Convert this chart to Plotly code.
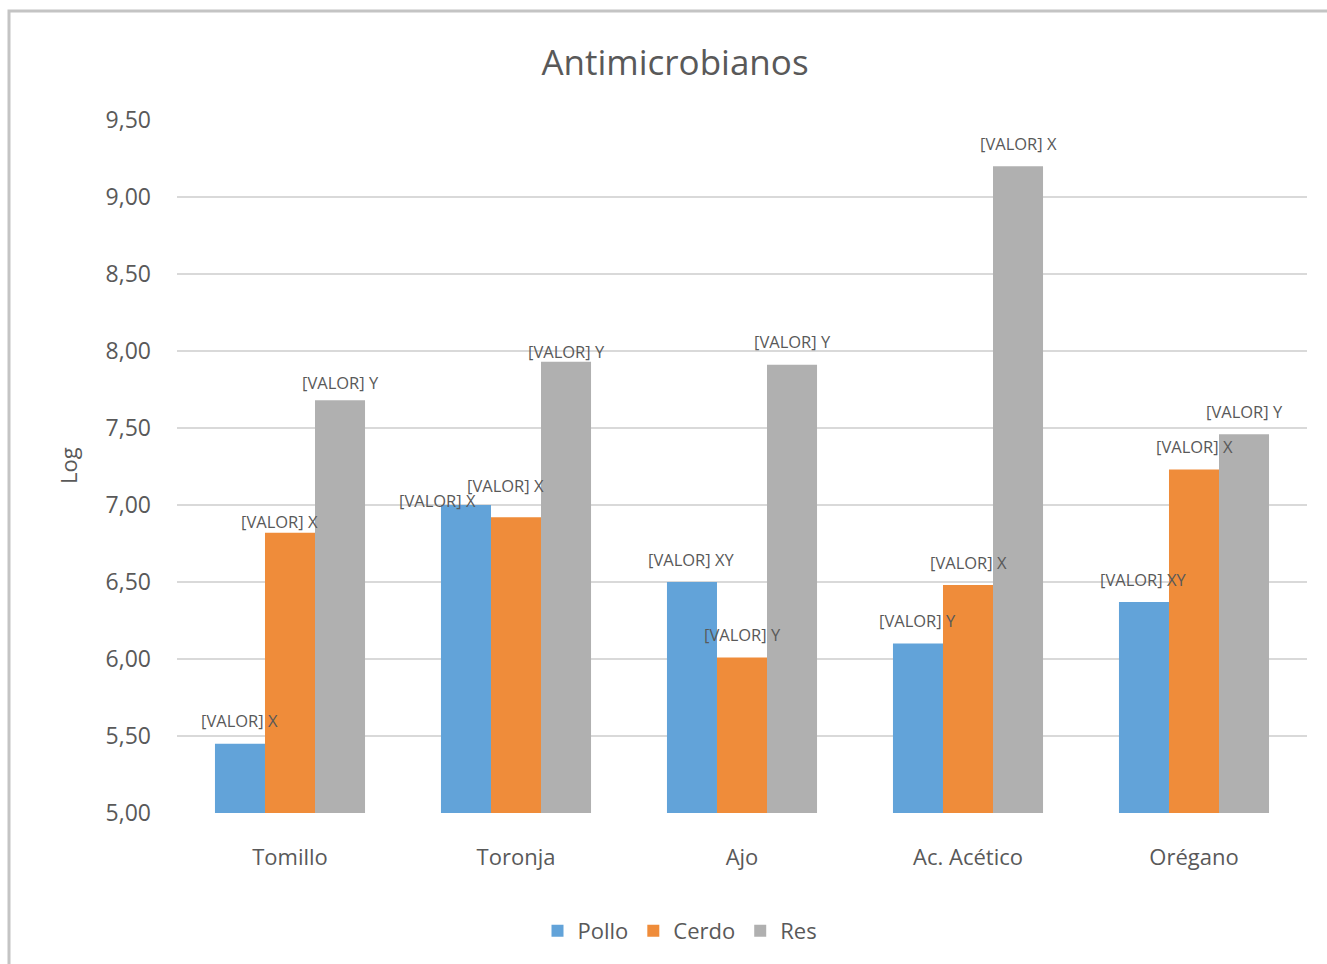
import plotly.graph_objects as go

categories = ["Tomillo", "Toronja", "Ajo", "Ac. Acético", "Orégano"]
series_names = ["Pollo", "Cerdo", "Res"]
pollo = [5.45, 7.00, 6.50, 6.10, 6.37]
cerdo = [6.82, 6.92, 6.01, 6.48, 7.23]
res = [7.68, 7.93, 7.91, 9.20, 7.46]
pollo_letters = ["X", "X", "XY", "Y", "XY"]
cerdo_letters = ["X", "X", "Y", "X", "X"]
res_letters = ["Y", "Y", "Y", "X", "Y"]
y_ticks = [5.0, 5.5, 6.0, 6.5, 7.0, 7.5, 8.0, 8.5, 9.0, 9.5]

values = [pollo, cerdo, res]
letters = [pollo_letters, cerdo_letters, res_letters]
colors = ["#62a3d9", "#ef8c3a", "#b0b0b0"]

W, H = 1327, 964
L, R, T, B = 177, 20, 120, 151
pw, ph = W - L - R, H - T - B
FONT = "Open Sans"
TXT = "#595959"

fig = go.Figure()
for name, vals, col in zip(series_names, values, colors):
    fig.add_trace(go.Bar(name=name, x=categories, y=vals, marker=dict(color=col, line=dict(width=0))))

# label nudges (series index, category index) -> (dx, dy) px
nudges = {(1, 0): (-11, -12), (0, 1): (-28, -18), (1, 1): (-11, 9),
          (2, 0): (0, -5), (2, 1): (0, -13)}
bar_px = pw / len(categories) * 0.664 / 3
for si in range(3):
    for ci, cat in enumerate(categories):
        dx, dy = nudges.get((si, ci), (0, 0))
        fig.add_annotation(x=cat, y=values[si][ci], xref="x", yref="y",
                           text="[VALOR] " + letters[si][ci], showarrow=False,
                           xshift=(si - 1) * bar_px + dx, yshift=23 + dy,
                           yanchor="middle", xanchor="center",
                           font=dict(family=FONT, size=16.5, color=TXT))

# y-axis title
fig.add_annotation(x=(68 - L) / pw, y=(H - B - 466) / ph, xref="paper", yref="paper",
                   text="Log", textangle=-90, showarrow=False,
                   xanchor="center", yanchor="middle",
                   font=dict(family=FONT, size=22, color=TXT))

# outer border
fig.add_shape(type="rect", xref="paper", yref="paper",
              x0=(9 - L) / pw, x1=(W + 10 - L) / pw,
              y0=(H - B - (H + 10)) / ph, y1=(H - B - 11) / ph,
              line=dict(color="#c4c4c4", width=3), fillcolor="rgba(0,0,0,0)", layer="below")

fig.update_layout(
    width=W, height=H,
    margin=dict(l=L, r=R, t=T, b=B, autoexpand=False),
    paper_bgcolor="white", plot_bgcolor="white",
    separators=",.",
    barmode="group", bargap=0.336, bargroupgap=0,
    title=dict(text="Antimicrobianos", x=675 / W, xanchor="center",
               y=1 - 63 / H, yref="container", yanchor="middle",
               font=dict(family=FONT, size=35, color=TXT)),
    font=dict(family=FONT, color=TXT),
    showlegend=True,
    legend=dict(orientation="h", x=(680 - L) / pw, xanchor="center",
                y=(H - B - 931) / ph, yanchor="middle",
                font=dict(family=FONT, size=22, color=TXT),
                itemwidth=30, traceorder="normal"),
    xaxis=dict(showgrid=False, showline=False, zeroline=False, ticks="",
               tickfont=dict(family=FONT, size=22, color=TXT), ticklabelstandoff=29),
    yaxis=dict(range=[5, 9.5], tickvals=y_ticks, tickformat=".2f",
               showgrid=True, gridcolor="#d9d9d9", gridwidth=1.5,
               zeroline=False, showline=False, ticks="",
               tickfont=dict(family=FONT, size=23, color=TXT), ticklabelstandoff=25),
)

fig.write_html("out.html")
